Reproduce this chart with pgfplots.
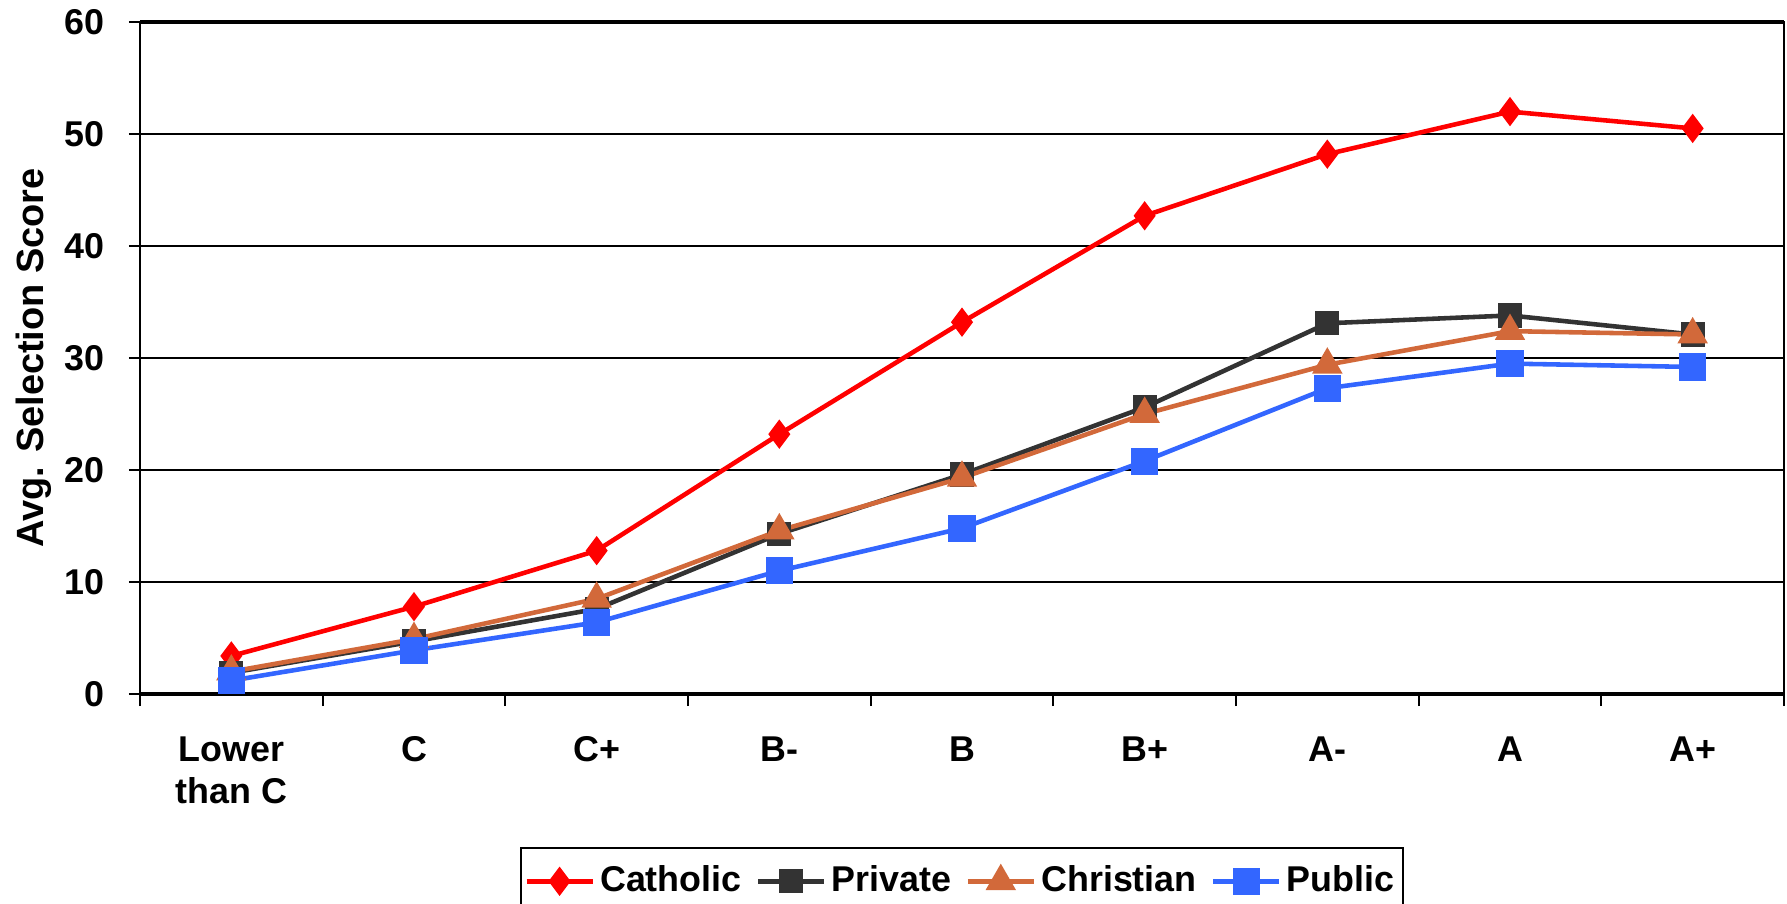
\documentclass[border=0pt]{standalone}
\usepackage{fontspec}
\setmainfont{Liberation Sans}
\usepackage{pgfplots}
\pgfplotsset{compat=1.18}

\definecolor{cathred}{HTML}{FF0000}
\definecolor{privgray}{HTML}{333333}
\definecolor{christor}{HTML}{D2693A}
\definecolor{pubblue}{HTML}{3366FF}

\begin{document}
\begin{tikzpicture}
\begin{axis}[
  at={(0,0)}, anchor=south west,
  scale only axis,
  width=16.44cm, height=6.72cm,
  xmin=-0.5, xmax=8.5,
  ymin=0, ymax=60,
  ytick distance=10,
  xtick={0,...,8},
  xticklabels={{Lower\\than C},C,C+,B-,B,B+,A-,A,A+},
  minor xtick={-0.5,0.5,...,8.5},
  xtick pos=bottom, ytick pos=left,
  major x tick style={draw=none},
  minor x tick style={black, line width=0.6pt},
  y tick style={black, line width=0.6pt},
  tick align=outside,
  major tick length=1.1mm,
  minor tick length=1.2mm,
  ymajorgrids,
  grid style={black, line width=0.6pt},
  axis line style={black, line width=0.7pt},
  every tick label/.append style={font=\fontsize{10.2}{12}\selectfont\bfseries},
  /pgf/number format/assume math mode=true,
  xticklabel style={align=center, yshift=-1.9mm},
  yticklabel style={xshift=-1.2mm},
  every axis y label/.style={at={(rel axis cs:0,0.5)}, xshift=-1.06cm,
    rotate=90, anchor=center, font=\fontsize{10.8}{12}\selectfont\bfseries},
  ylabel={Avg. Selection Score},
  legend columns=-1,
  legend style={at={(0.5,0)}, anchor=north, yshift=-1.53cm,
    draw=black, line width=0.6pt,
    font=\fontsize{10.2}{12}\selectfont\bfseries,
    inner xsep=1pt, inner ysep=3pt,
    nodes={inner xsep=1.5pt, inner ysep=2pt},
    /tikz/every even column/.append style={column sep=0.9mm}},
  legend image code/.code={%
    \draw[mark repeat=2, mark phase=2]
      plot coordinates {(0cm,0cm) (0.33cm,0cm) (0.66cm,0cm)};},
  clip=false,
]
\addplot[cathred, line width=1.3pt, mark=diamond*, mark size=3.1pt,
  mark options={solid, fill=cathred}]
  coordinates {(0,3.4) (1,7.8) (2,12.8) (3,23.2) (4,33.2) (5,42.7) (6,48.2) (7,52.0) (8,50.5)};
\addplot[privgray, line width=1.3pt, mark=square*, mark size=2.8pt,
  mark options={solid, fill=privgray}]
  coordinates {(0,1.9) (1,4.7) (2,7.6) (3,14.3) (4,19.6) (5,25.6) (6,33.1) (7,33.8) (8,32.1)};
\addplot[christor, line width=1.3pt, mark=triangle*, mark size=3.7pt,
  mark options={solid, fill=christor}]
  coordinates {(0,2.0) (1,4.9) (2,8.5) (3,14.6) (4,19.3) (5,25.0) (6,29.4) (7,32.4) (8,32.1)};
\addplot[pubblue, line width=1.3pt, mark=square*, mark size=3.2pt,
  mark options={solid, fill=pubblue}]
  coordinates {(0,1.2) (1,3.9) (2,6.4) (3,11.0) (4,14.8) (5,20.8) (6,27.3) (7,29.5) (8,29.2)};
\legend{Catholic,Private,Christian,Public}
\draw[black, line width=1.1pt] (rel axis cs:0,0) -- (rel axis cs:1,0);
\draw[black, line width=1.1pt] (rel axis cs:0,1) -- (rel axis cs:1,1);
\end{axis}
\pgfresetboundingbox
\path[use as bounding box] (-1.40,-2.09) rectangle (16.47,6.94);
\end{tikzpicture}
\end{document}
